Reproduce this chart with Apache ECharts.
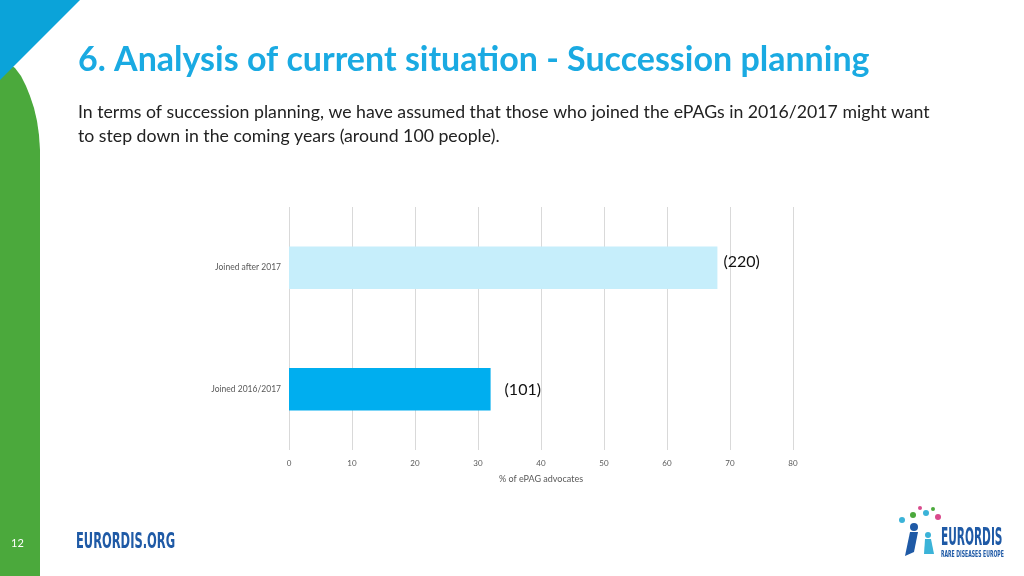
<!DOCTYPE html>
<html><head><meta charset="utf-8">
<script src="https://cdn.jsdelivr.net/npm/echarts@6/dist/echarts.min.js"></script>
<style>html,body{margin:0;padding:0;background:#fff}#c{width:1024px;height:576px}</style>
</head><body><div id="c"></div>
<script>
const categories = ['Joined 2016/2017', 'Joined after 2017'];
const values = [32, 68];
const counts = ['(101)', '(220)'];
const barColors = ['#00AEEF', '#C6EEFB'];
const xTicks = [0, 10, 20, 30, 40, 50, 60, 70, 80];

const labelStyles = [
  { distance: 14, offset: [0, 1] },
  { distance: 6, offset: [0, -6] }
];

const chart = echarts.init(document.getElementById('c'));
chart.setOption({
  animation: false,
  backgroundColor: '#fff',
  grid: { left: 289, right: 231, top: 207, bottom: 126, containLabel: false },
  xAxis: {
    type: 'value', min: xTicks[0], max: xTicks[xTicks.length - 1], interval: 10,
    name: '% of ePAG advocates', nameLocation: 'middle', nameGap: 25,
    nameTextStyle: { color: '#595959', fontSize: 9, fontFamily: 'Lato' },
    axisLine: { show: false }, axisTick: { show: false },
    axisLabel: { color: '#595959', fontSize: 8, fontFamily: 'Lato', margin: 9 },
    splitLine: { show: true, lineStyle: { color: '#D9D9D9', width: 1 } }
  },
  yAxis: {
    type: 'category', data: categories,
    axisLine: { show: false }, axisTick: { show: false },
    axisLabel: { color: '#595959', fontSize: 8.5, fontFamily: 'Lato', margin: 8 }
  },
  series: [{
    type: 'bar', barWidth: '35%',
    data: values.map((v, i) => ({ value: v, itemStyle: { color: barColors[i] }, label: labelStyles[i] })),
    label: {
      show: true, position: 'right',
      formatter: p => counts[p.dataIndex],
      color: '#111', fontSize: 16, fontFamily: 'Lato'
    }
  }],
  graphic: [
    { type: 'polygon', z: 10, shape: { points: [[0,62],[8,63],[15,68],[21,76],[26,86],[30,96],[34,108],[37,121],[39,135],[40,150],[40,576],[0,576]] }, style: { fill: '#4BA93C' } },
    { type: 'polygon', z: 11, shape: { points: [[0,0],[80,0],[0,80]] }, style: { fill: '#0BA3D9' } },
    { type: 'text', z: 12, left: 78, top: 43, style: { text: '6. Analysis of current situation - Succession planning', font: 'bold 34px Lato', fill: '#1AAAE2' } },
    { type: 'text', z: 12, left: 78, top: 100, style: { text: 'In terms of succession planning, we have assumed that those who joined the ePAGs in 2016/2017 might want\nto step down in the coming years (around 100 people).', font: '17.7px Lato', fill: '#222', lineHeight: 24 } },
    { type: 'text', z: 12, left: 11, top: 538, style: { text: '12', font: '11px Lato', fill: '#fff' } },
    { type: 'text', z: 12, x: 76, y: 531, scaleX: 0.58, style: { text: 'EURORDIS.ORG', font: 'bold 22px "DejaVu Sans Condensed"', fill: '#1F5AA6' } },
    { type: 'text', z: 12, x: 941, y: 527, scaleX: 0.49, style: { text: 'EURORDIS', font: 'bold 24px "DejaVu Sans Condensed"', fill: '#1F5AA6' } },
    { type: 'text', z: 12, x: 941, y: 550, scaleX: 0.565, style: { text: 'RARE DISEASES EUROPE', font: 'bold 9px "DejaVu Sans Condensed"', fill: '#1F5AA6' } },
    { type: 'circle', z: 12, shape: { cx: 914, cy: 527, r: 4 }, style: { fill: '#1F5AA6' } },
    { type: 'polygon', z: 12, shape: { points: [[910,532],[918,532],[914,552],[905,556]] }, style: { fill: '#1F5AA6' } },
    { type: 'circle', z: 12, shape: { cx: 928, cy: 535, r: 3 }, style: { fill: '#3BB3D8' } },
    { type: 'polygon', z: 12, shape: { points: [[925,539],[931,539],[934,554],[924,554]] }, style: { fill: '#3BB3D8' } },
    { type: 'circle', z: 12, shape: { cx: 902, cy: 520, r: 3 }, style: { fill: '#3BB3D8' } },
    { type: 'circle', z: 12, shape: { cx: 913, cy: 515, r: 3 }, style: { fill: '#4BA93C' } },
    { type: 'circle', z: 12, shape: { cx: 926, cy: 513, r: 3 }, style: { fill: '#3BB3D8' } },
    { type: 'circle', z: 12, shape: { cx: 938, cy: 517, r: 3 }, style: { fill: '#D94A8C' } },
    { type: 'circle', z: 12, shape: { cx: 920, cy: 508, r: 2 }, style: { fill: '#D94A8C' } },
    { type: 'circle', z: 12, shape: { cx: 933, cy: 509, r: 2 }, style: { fill: '#4BA93C' } }
  ]
});
</script></body></html>
